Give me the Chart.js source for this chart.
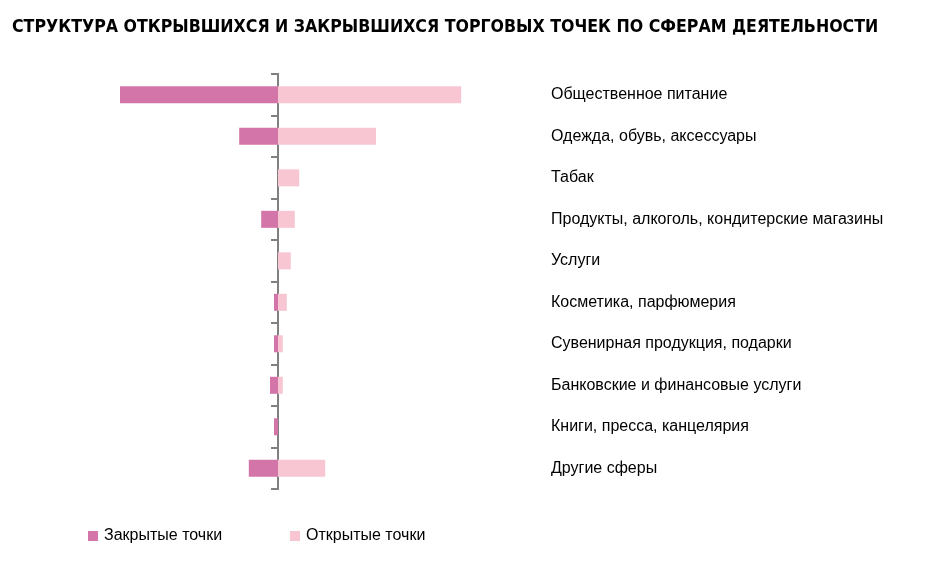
<!DOCTYPE html>
<html>
<head>
<meta charset="utf-8">
<script src="https://cdn.jsdelivr.net/npm/chart.js@4.4.1/dist/chart.umd.min.js"></script>
<style>
  html, body { margin: 0; padding: 0; background: #fff; }
  #wrap { width: 930px; height: 565px; }
</style>
</head>
<body>
<div id="wrap"><canvas id="spheresChart"></canvas></div>
<script>
const categories = [
    'Общественное питание',
    'Одежда, обувь, аксессуары',
    'Табак',
    'Продукты, алкоголь, кондитерские магазины',
    'Услуги',
    'Косметика, парфюмерия',
    'Сувенирная продукция, подарки',
    'Банковские и финансовые услуги',
    'Книги, пресса, канцелярия',
    'Другие сферы'
];
// closed points go to the left of the axis, so they are negative
const closedPoints = [-39.5, -9.7, 0, -4.2, 0, -1, -1, -2, -1, -7.3];
const openPoints = [45.8, 24.5, 5.3, 4.2, 3.2, 2.2, 1.2, 1.2, 0, 11.8];
const seriesNames = ['Закрытые точки', 'Открытые точки'];

const closedColor = '#D475A9';
const openColor = '#F8C6D3';

// simple legend under the plot, items start at fixed x
const bottomLegend = {
    id: 'bottomLegend',
    afterDraw(chart) {
        const ctx = chart.ctx;
        const y = chart.chartArea.bottom + 47;
        const starts = [88, 290];
        ctx.save();
        ctx.font = '16px "Liberation Sans", Arial, sans-serif';
        ctx.textBaseline = 'middle';
        chart.data.datasets.forEach((ds, i) => {
            const x = starts[i];
            ctx.fillStyle = ds.backgroundColor;
            ctx.fillRect(x, y - 5, 10, 10);
            ctx.fillStyle = '#000';
            ctx.fillText(ds.label, x + 16, y);
        });
        ctx.restore();
    }
};

const ctx = document.getElementById('spheresChart');

new Chart(ctx, {
    type: 'bar',
    data: {
        labels: categories,
        datasets: [
            {
                label: seriesNames[0],
                data: closedPoints,
                backgroundColor: closedColor,
                categoryPercentage: 0.41,
                barPercentage: 1
            },
            {
                label: seriesNames[1],
                data: openPoints,
                backgroundColor: openColor,
                categoryPercentage: 0.41,
                barPercentage: 1
            }
        ]
    },
    options: {
        indexAxis: 'y',
        responsive: true,
        maintainAspectRatio: false,
        animation: false,
        layout: {
            padding: { left: 12, right: 0, top: 0, bottom: 76 }
        },
        scales: {
            x: {
                type: 'linear',
                display: false,
                stacked: true,
                min: -66.5,
                max: 68
            },
            y: {
                type: 'category',
                position: 'right',
                stacked: true,
                offset: true,
                grid: { display: false, drawTicks: false },
                border: { display: false },
                ticks: {
                    padding: 1,
                    color: '#000',
                    font: { family: "'Liberation Sans', Arial, sans-serif", size: 16 }
                },
                afterFit(scale) {
                    scale.width = 380;
                }
            },
            yZero: {
                type: 'category',
                axis: 'y',
                position: { x: 0 },
                offset: true,
                grid: {
                    offset: true,
                    drawOnChartArea: false,
                    drawTicks: true,
                    tickLength: 6,
                    color: '#808080',
                    lineWidth: 2
                },
                border: { display: true, color: '#808080', width: 2 },
                ticks: { display: false }
            }
        },
        plugins: {
            title: {
                display: true,
                text: 'СТРУКТУРА ОТКРЫВШИХСЯ И ЗАКРЫВШИХСЯ ТОРГОВЫХ ТОЧЕК ПО СФЕРАМ ДЕЯТЕЛЬНОСТИ',
                align: 'start',
                color: '#000',
                font: { family: "'DejaVu Sans Condensed', 'DejaVu Sans', sans-serif", size: 17.6, weight: 'bold' },
                padding: { top: 17, bottom: 36 }
            },
            legend: { display: false },
            tooltip: { enabled: false }
        }
    },
    plugins: [bottomLegend]
});
</script>
</body>
</html>
